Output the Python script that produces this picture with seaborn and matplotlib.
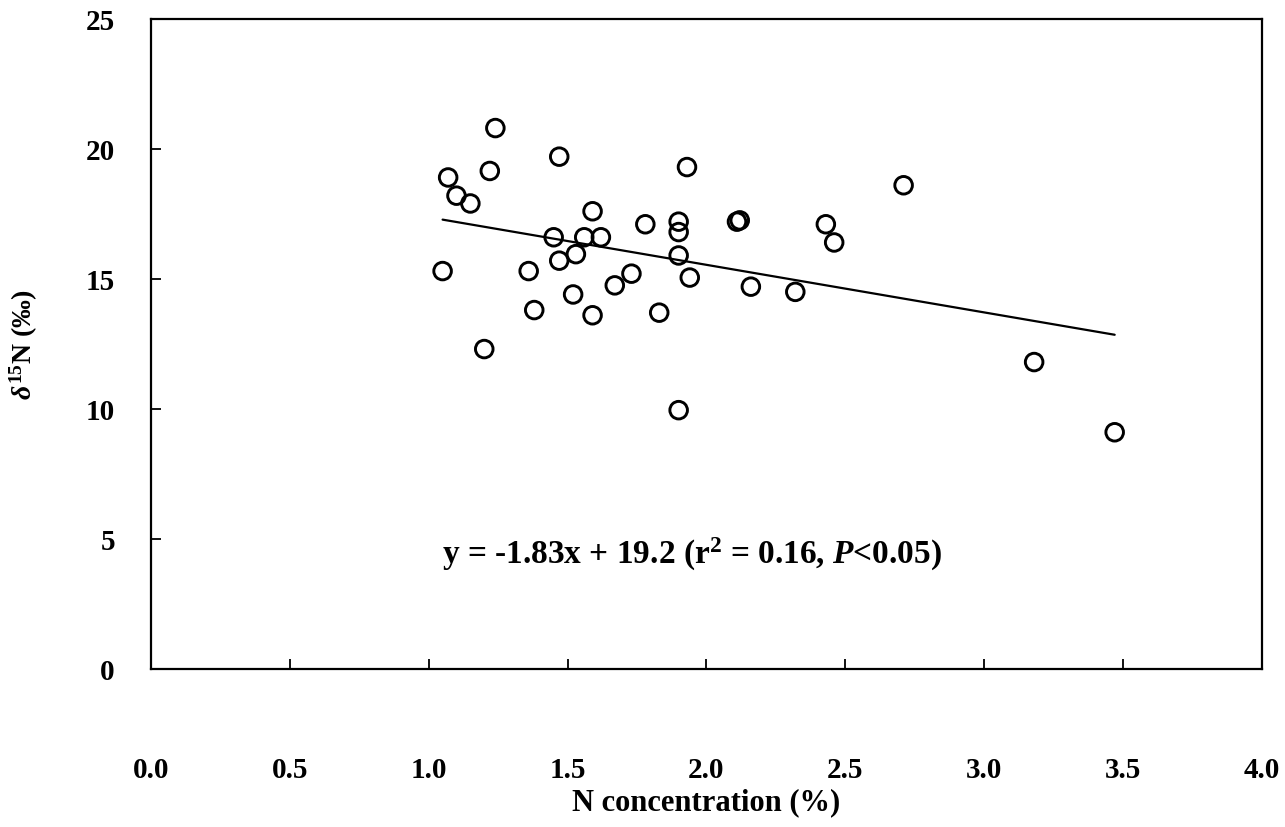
import numpy as np
import pandas as pd
import matplotlib
matplotlib.use('Agg')
import matplotlib.pyplot as plt
import seaborn as sns

# N concentration (%) and delta 15N (per mil)
n_conc = [1.05, 1.07, 1.10, 1.15, 1.22, 1.24, 1.20, 1.36, 1.38, 1.45,
          1.47, 1.47, 1.52, 1.53, 1.56, 1.59, 1.59, 1.62, 1.67, 1.73,
          1.78, 1.83, 1.90, 1.90, 1.90, 1.90, 1.93, 1.94, 2.11, 2.12,
          2.16, 2.32, 2.43, 2.46, 2.71, 3.18, 3.47]
d15n = [15.3, 18.9, 18.2, 17.9, 19.15, 20.8, 12.3, 15.3, 13.8, 16.6,
        19.7, 15.7, 14.4, 15.95, 16.6, 17.6, 13.6, 16.6, 14.75, 15.2,
        17.1, 13.7, 17.2, 16.8, 15.9, 9.95, 19.3, 15.05, 17.2, 17.25,
        14.7, 14.5, 17.1, 16.4, 18.6, 11.8, 9.1]

# regression reported in the figure
slope = -1.83
intercept = 19.2

x_ticks = [0.0, 0.5, 1.0, 1.5, 2.0, 2.5, 3.0, 3.5, 4.0]
y_ticks = [0, 5, 10, 15, 20, 25]

df = pd.DataFrame({'n': n_conc, 'd15n': d15n})

sns.set_style('ticks')
plt.rcParams['font.family'] = ['Liberation Serif', 'DejaVu Serif']
plt.rcParams['font.weight'] = 'bold'
plt.rcParams['text.color'] = 'black'
plt.rcParams['axes.labelcolor'] = 'black'
plt.rcParams['xtick.color'] = 'black'
plt.rcParams['ytick.color'] = 'black'
plt.rcParams['mathtext.fontset'] = 'custom'
plt.rcParams['mathtext.rm'] = 'Liberation Serif:bold'
plt.rcParams['mathtext.it'] = 'Liberation Serif:bold:italic'
plt.rcParams['mathtext.bf'] = 'Liberation Serif:bold'

fig = plt.figure(figsize=(12.85, 8.28), dpi=100)
ax = fig.add_axes([0.1175, 0.191, 0.8645, 0.785])

sns.scatterplot(data=df, x='n', y='d15n', ax=ax, s=160,
                facecolor='none', edgecolor='black', linewidth=2.1, zorder=3)

# fitted line drawn over the range of the data
line_x = np.array([df['n'].min(), df['n'].max()])
line_y = intercept + slope * line_x
sns.lineplot(x=line_x, y=line_y, ax=ax, color='black', linewidth=1.6)

ax.set_xlim(0, 4)
ax.set_ylim(0, 25)
ax.set_xticks(x_ticks)
ax.set_xticklabels([f'{t:.1f}' for t in x_ticks])
ax.set_yticks(y_ticks)
ax.set_yticklabels([str(t) for t in y_ticks])
ax.tick_params(direction='in', length=7, width=1.3, labelsize=21)
for lab in ax.get_xticklabels() + ax.get_yticklabels():
    lab.set_fontweight('bold')
ax.tick_params(axis='x', pad=63)
ax.tick_params(axis='y', pad=26)

for side in ['left', 'right', 'top', 'bottom']:
    ax.spines[side].set_visible(True)
    ax.spines[side].set_color('black')
    ax.spines[side].set_linewidth(1.6)

ax.set_xlabel('N concentration (%)', fontsize=22, fontweight='bold')
ax.xaxis.set_label_coords(0.5, -0.182)
ax.set_ylabel(r'$\delta^{15}$N (‰)', fontsize=20, fontweight='bold')
ax.yaxis.set_label_coords(-0.1, 0.5)

ax.text(1.95, 4.45, r'y = -1.83x + 19.2 (r$^2$ = 0.16, $P$<0.05)',
        ha='center', va='center', fontsize=24, fontweight='bold')

fig.savefig('out.png', dpi=100, facecolor='white')
